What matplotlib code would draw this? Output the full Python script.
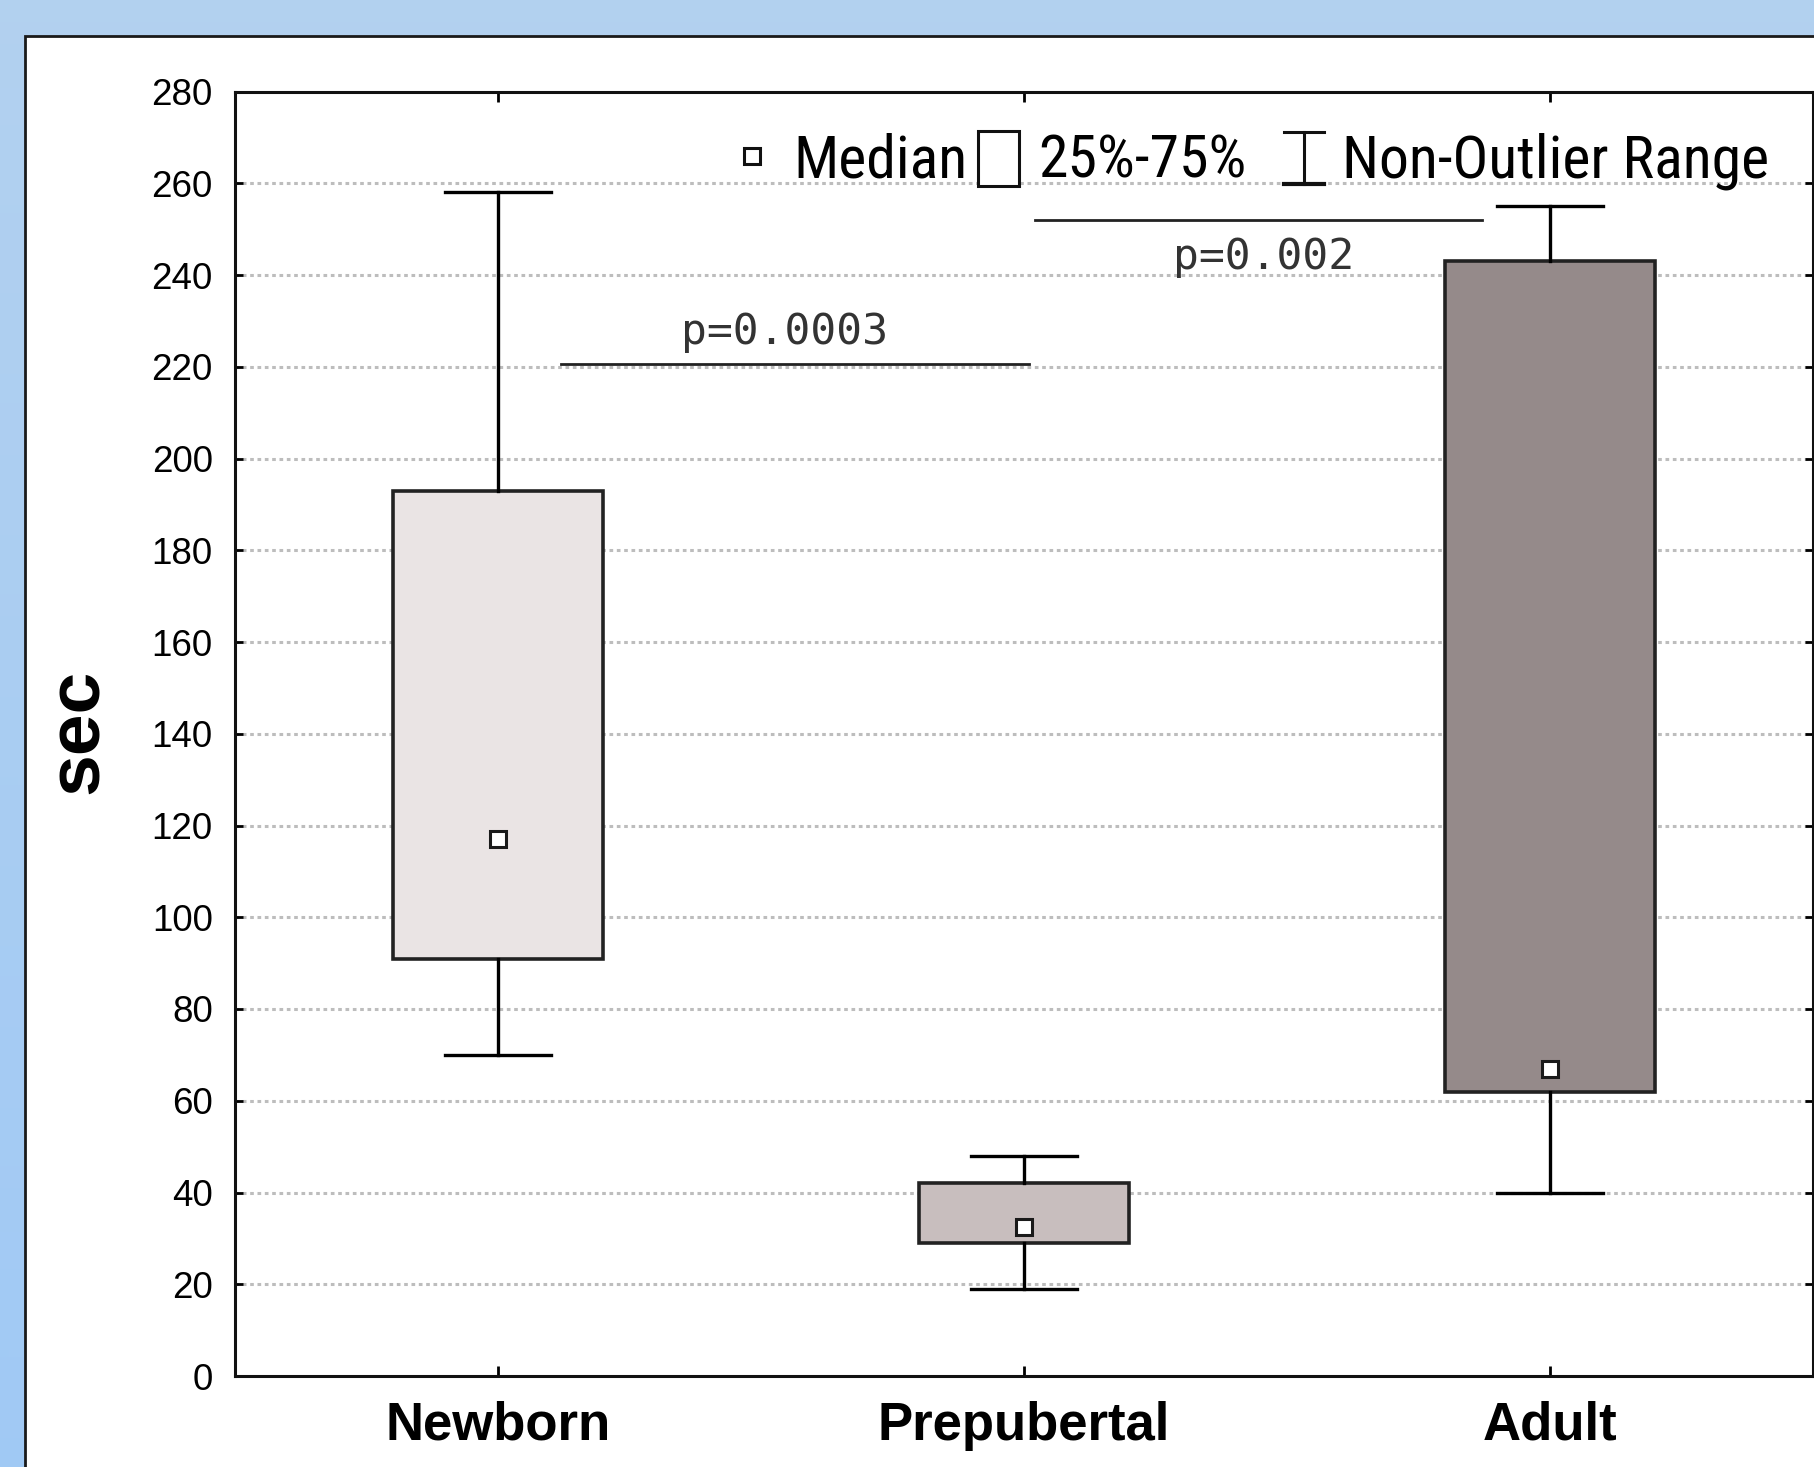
import numpy as np
import matplotlib
matplotlib.use("Agg")
import matplotlib.pyplot as plt
from matplotlib import font_manager
from matplotlib.patches import Rectangle

# ---------------- data ----------------
categories = ["Newborn", "Prepubertal", "Adult"]
whisker_low = [70, 19, 40]
q1 = [91, 29, 62]
median = [117, 32.5, 67]
q3 = [193, 42, 243]
whisker_high = [258, 48, 255]
box_colors = ["#EAE4E4", "#C8BEBE", "#958A8A"]

y_ticks = list(range(0, 281, 20))
y_label = "sec"

p_labels = ["p=0.0003", "p=0.002"]
p_line_x = [(0.12, 1.01), (1.02, 1.87)]
p_line_y = [220.5, 252]
p_text_x = [0.545, 1.455]
p_text_y = [225, 241.2]

legend_labels = ["Median", "25%-75%", "Non-Outlier Range"]

# ---------------- fonts ----------------
names = {f.name for f in font_manager.fontManager.ttflist}
sans = "Liberation Sans" if "Liberation Sans" in names else "DejaVu Sans"
narrow = None
for cand in ["Liberation Sans Narrow", "Roboto Condensed", "Open Sans Condensed",
             "DejaVu Sans Condensed"]:
    if cand in names:
        narrow = cand
        break
if narrow in ("Liberation Sans Narrow", "Roboto Condensed", "Open Sans Condensed"):
    leg_family, leg_size = [narrow, sans], 43
else:
    leg_family, leg_size = [sans], 36
plt.rcParams["font.family"] = [sans, "DejaVu Sans"]

W, H = 1815, 1467
fig = plt.figure(figsize=(W / 100, H / 100), dpi=100)

# background gradient
bg = fig.add_axes([0, 0, 1, 1], zorder=-10)
xx, yy = np.meshgrid(np.linspace(0, 1, 200), np.linspace(0, 1, 200))
c_top = np.array([0.70, 0.82, 0.94])
c_bot = np.array([0.63, 0.79, 0.96])
t = np.clip(yy * 0.9 + (1 - xx) * 0.1 * yy, 0, 1)[..., None]
img = c_top * (1 - t) + c_bot * t
bg.imshow(img, extent=[0, 1, 0, 1], aspect="auto", origin="upper")
bg.set_xlim(0, 1)
bg.set_ylim(0, 1)
bg.axis("off")

# white panel
px0 = 25.5 / W
py1 = 1 - 36.5 / H
bg.add_patch(Rectangle((px0, -0.1), 1.2, py1 + 0.1, facecolor="white",
                       edgecolor="#1a1a1a", linewidth=2.0, zorder=5))

# ---------------- main axes ----------------
ax = fig.add_axes([235 / W, 91 / H, 1578 / W, (1376 - 91.5) / H])
positions = np.arange(len(categories))

stats = []
for i, c in enumerate(categories):
    stats.append(dict(label=c, whislo=whisker_low[i], q1=q1[i], med=median[i],
                      q3=q3[i], whishi=whisker_high[i], fliers=[]))

bp = ax.bxp(stats, positions=positions, widths=0.4, capwidths=0.2,
            patch_artist=True, showfliers=False,
            boxprops=dict(edgecolor="#222222", linewidth=2.6),
            whiskerprops=dict(color="black", linewidth=2.4),
            capprops=dict(color="black", linewidth=2.4),
            medianprops=dict(linewidth=0))
for patch, col in zip(bp["boxes"], box_colors):
    patch.set_facecolor(col)
    patch.set_zorder(3)
for ln in bp["whiskers"] + bp["caps"]:
    ln.set_zorder(3)

ax.plot(positions, median, linestyle="none", marker="s", markersize=12,
        markerfacecolor="white", markeredgecolor="#1a1a1a",
        markeredgewidth=2.2, zorder=5)

ax.set_xlim(-0.5, 2.5)
ax.set_ylim(0, 280)
ax.set_yticks(y_ticks)
ax.set_yticklabels([str(v) for v in y_ticks], fontsize=26.5, family=[sans])
ax.set_xticks(positions)
ax.set_xticklabels(categories, fontsize=38, fontweight="bold", family=[sans])
ax.tick_params(axis="y", direction="in", length=6, width=2, pad=16,
               right=True, left=True)
ax.tick_params(axis="x", direction="in", length=7, width=2, pad=18,
               top=True, bottom=True)
for s in ax.spines.values():
    s.set_linewidth(2.2)
    s.set_color("#111111")

# grid
for v in y_ticks[1:-1]:
    ax.axhline(v, color="#BDBDBD", linestyle=(0, (1.2, 1.2)), linewidth=2.2,
               zorder=1)

ax.set_ylabel(y_label, fontsize=54, fontweight="bold", family=[sans])
ax.yaxis.set_label_coords(-0.0773, 0.502)

# p-values
for lab, (x0, x1), ly, tx, ty in zip(p_labels, p_line_x, p_line_y,
                                     p_text_x, p_text_y):
    ax.plot([x0, x1], [ly, ly], color="#222222", linewidth=2.0, zorder=4)
    ax.text(tx, ty, lab, ha="center", va="baseline", fontsize=31,
            family=["DejaVu Sans Mono"], color="#333333", zorder=4)

# legend (manual)
leg_y = 266
base = 261.2
ax.plot([0.483], [leg_y], linestyle="none", marker="s", markersize=11,
        markerfacecolor="white", markeredgecolor="#111111",
        markeredgewidth=2.2, zorder=6)
ax.text(0.562, base, legend_labels[0], ha="left", va="baseline",
        fontsize=leg_size, family=leg_family, zorder=6)
ax.add_patch(Rectangle((0.913, 259.5), 0.077, 11.9, facecolor="white",
                       edgecolor="#111111", linewidth=2.2, zorder=6))
ax.text(1.027, base, legend_labels[1], ha="left", va="baseline",
        fontsize=leg_size, family=leg_family, zorder=6)
ax.plot([1.532, 1.532], [259.8, 271.2], color="#111111", linewidth=2.2, zorder=6)
ax.plot([1.494, 1.570], [271.2, 271.2], color="#111111", linewidth=2.2, zorder=6)
ax.plot([1.494, 1.570], [259.8, 259.8], color="#111111", linewidth=3.0, zorder=6)
ax.text(1.605, base, legend_labels[2], ha="left", va="baseline",
        fontsize=leg_size, family=leg_family, zorder=6)

fig.savefig("out.png", dpi=100)
